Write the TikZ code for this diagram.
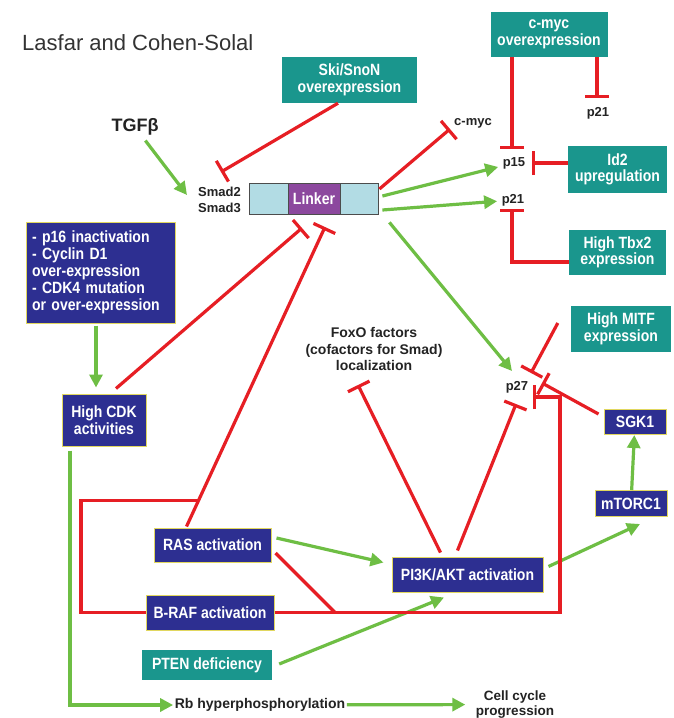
\documentclass[tikz,border=0pt]{standalone}
\usepackage{fontspec}
\setmainfont{Liberation Sans}
\newfontfamily\boxf[FakeStretch=0.86]{Liberation Sans}
\usetikzlibrary{arrows.meta,calc}
\definecolor{teal1}{RGB}{26,150,141}
\definecolor{navy1}{RGB}{45,47,145}
\definecolor{ybord}{RGB}{225,215,95}
\definecolor{red1}{RGB}{230,30,36}
\definecolor{green1}{RGB}{110,190,68}
\definecolor{lblue}{RGB}{178,220,228}
\definecolor{purp}{RGB}{140,72,158}
\definecolor{txt}{RGB}{35,35,35}
\begin{document}
\begin{tikzpicture}[x=1pt,y=-1pt,
 boxfont/.style={font=\boxf\fontsize{16.3}{16.5}\selectfont\bfseries},
 tealbox/.style={boxfont, fill=teal1, text=white, align=center, inner sep=0pt},
 navybox/.style={boxfont, fill=navy1, draw=ybord, line width=1pt, text=white, align=center, inner sep=0pt},
 lbl/.style={font=\fontsize{13}{16}\selectfont\bfseries, text=txt, inner sep=1.5pt},
 act/.style={draw=green1, line width=3.2pt, -{Triangle[length=13pt,width=13pt]}},
 inh/.style={draw=red1, line width=3.2pt, -{Bar[width=24pt]}},
 rl/.style={draw=red1, line width=3.2pt},
]
\useasboundingbox[fill=white] (0,0) rectangle (674,718);

% title and labels
\node[font=\fontsize{22}{26}\selectfont, text=black!80, anchor=west, inner sep=0pt] (title) at (22,43) {Lasfar and Cohen-Solal};
\node[font=\fontsize{18}{20}\selectfont\bfseries, text=txt, inner sep=1pt] (tgf) at (135,127) {TGFβ};
\node[lbl, align=left] (smad) at (219.5,200) {Smad2\\Smad3};
\node[lbl] (cmycl) at (473,123) {c-myc};
\node[lbl] (p15) at (514,163) {p15};
\node[lbl] (p21) at (513,200) {p21};
\node[lbl] (p21b) at (598,113) {p21};
\node[lbl] (p27) at (517,387) {p27};
\node[lbl, align=center, font=\fontsize{14}{16.5}\selectfont\bfseries] (foxo) at (374,349) {FoxO factors\\(cofactors for Smad)\\localization};
\node[lbl, font=\fontsize{14}{16}\selectfont\bfseries] (rb) at (260,705) {Rb hyperphosphorylation};
\node[lbl, align=center, font=\fontsize{13.5}{15}\selectfont\bfseries] (cc) at (515,704.5) {Cell cycle\\progression};

% linker bar
\node[draw=black!70, line width=0.8pt, fill=lblue, minimum width=129pt, minimum height=31pt, inner sep=0pt] (link) at (313.5,198.5) {};
\node[boxfont, fill=purp, draw=black!70, line width=0.8pt, minimum width=52pt, minimum height=31pt, inner sep=0pt, text=white] (linker) at (314,198.5) {Linker};

% teal boxes
\node[tealbox, minimum width=135pt, minimum height=46pt] (ski) at (349.5,80) {Ski/SnoN\\overexpression};
\node[tealbox, minimum width=117pt, minimum height=45pt] (cmyc) at (549,34.5) {c-myc\\overexpression};
\node[tealbox, minimum width=99pt, minimum height=47pt] (id2) at (617.5,169.5) {Id2\\upregulation};
\node[tealbox, minimum width=97pt, minimum height=45pt] (tbx2) at (617.5,252.5) {High Tbx2\\expression};
\node[tealbox, minimum width=100pt, minimum height=46pt] (mitf) at (621,329) {High MITF\\expression};
\node[tealbox, minimum width=130pt, minimum height=30pt] (pten) at (207,665) {PTEN deficiency};

% navy boxes
\node[navybox, align=left, text width=137pt, inner xsep=6pt, minimum height=101pt, font=\boxf\fontsize{16.3}{17}\selectfont\bfseries] (p16) at (100.5,272.5) {- p16 inactivation\\- Cyclin D1\\over-expression\\- CDK4 mutation\\or over-expression};
\node[navybox, minimum width=84pt, minimum height=52pt] (cdk) at (104,420) {High CDK\\activities};
\node[navybox, minimum width=62pt, minimum height=25pt] (sgk) at (635,422) {SGK1};
\node[navybox, minimum width=72pt, minimum height=26pt] (mtor) at (631,503.5) {mTORC1};
\node[navybox, minimum width=117pt, minimum height=34pt] (ras) at (212.5,545) {RAS activation};
\node[navybox, minimum width=128pt, minimum height=35pt] (braf) at (210,612.5) {B-RAF activation};
\node[navybox, minimum width=151pt, minimum height=35pt] (pi3k) at (467.5,574.5) {PI3K/AKT activation};

% coordinates
\coordinate (smadtip) at (187,195);
\coordinate (skiT) at (221,172);
\coordinate (cmycT) at (450,129);
\coordinate (p15T) at (512,149);
\coordinate (p21bT) at (597,98);
\coordinate (p15R) at (532,163);
\coordinate (p21T) at (512,209);
\coordinate (p27A) at (512,371);
\coordinate (T1) at (302,228);
\coordinate (T2) at (325,227);
\coordinate (rasA) at ($(ras.north)+(-26,-1)$);
\coordinate (j1) at ($(rasA)!0.086!(T2)$);
\coordinate (brk) at (81,0);
\coordinate (j2) at (335,612.5);
\coordinate (bc) at (560,612.5);
\coordinate (p27br) at (533,397);
\coordinate (foxT) at (358,385);
\coordinate (p27B) at (516,404);
\coordinate (p27C) at (531,373);
\coordinate (p27D) at (542,383);

% activation arrows
\draw[act, shorten <=5pt] (tgf) -- (smadtip);
\draw[act, shorten >=3pt] ($(link.east)+(4,-2.5)$) -- (p15);
\draw[act, shorten >=3pt] ($(link.east)+(4,11.5)$) -- (p21);
\draw[act] ($(link.south east)+(11,8)$) -- (p27A);
\draw[act] ($(p16.south)+(-4.5,2)$) -- ($(cdk.north)+(-8,-6)$);
\draw[act] (mtor) -- (sgk);
\draw[act] ($(ras.east)+(5,-7)$) -- ($(pi3k.west)+(-8,-12)$);
\draw[act] ($(pten.east)+(7,-1)$) -- ($(pi3k.south)+(-23.5,5)$);
\draw[act] ($(pi3k.east)+(5,-8)$) -- ($(mtor.south)+(9,7)$);
\draw[act] ($(cdk.south)+(-34,4)$) |- (rb);
\draw[act, shorten >=9pt] (rb) -- (cc);

% inhibitions
\draw[inh] ($(ski.south)+(-11.5,0)$) -- (skiT);
\draw[inh] ($(link.east)+(1,-9.5)$) -- (cmycT);
\draw[inh] (cmyc.south -| p15T) -- (p15T);
\draw[inh] (cmyc.south -| p21bT) -- (p21bT);
\draw[inh] (id2.west |- p15R) -- (p15R);
\draw[inh] ($(tbx2.west)+(0,9.5)$) -| (p21T);
\draw[inh] ($(cdk.north)+(12,-5)$) -- (T1);
\draw[inh] (rasA) -- (T2);
\draw[rl] (braf.west) -- (braf.west -| brk) |- (j1);
\draw[rl] ($(ras.east)+(4,8)$) -- (j2);
\draw[inh] (braf.east) -- (bc) |- (p27br);
\draw[inh] ($(pi3k.north)+(-27,-4)$) -- (foxT);
\draw[inh] ($(pi3k.north)+(-10,-6)$) -- (p27B);
\draw[inh] ($(mitf.west)+(-13,-6)$) -- (p27C);
\draw[inh] ($(sgk.west)+(-5,-8)$) -- (p27D);
\end{tikzpicture}
\end{document}
